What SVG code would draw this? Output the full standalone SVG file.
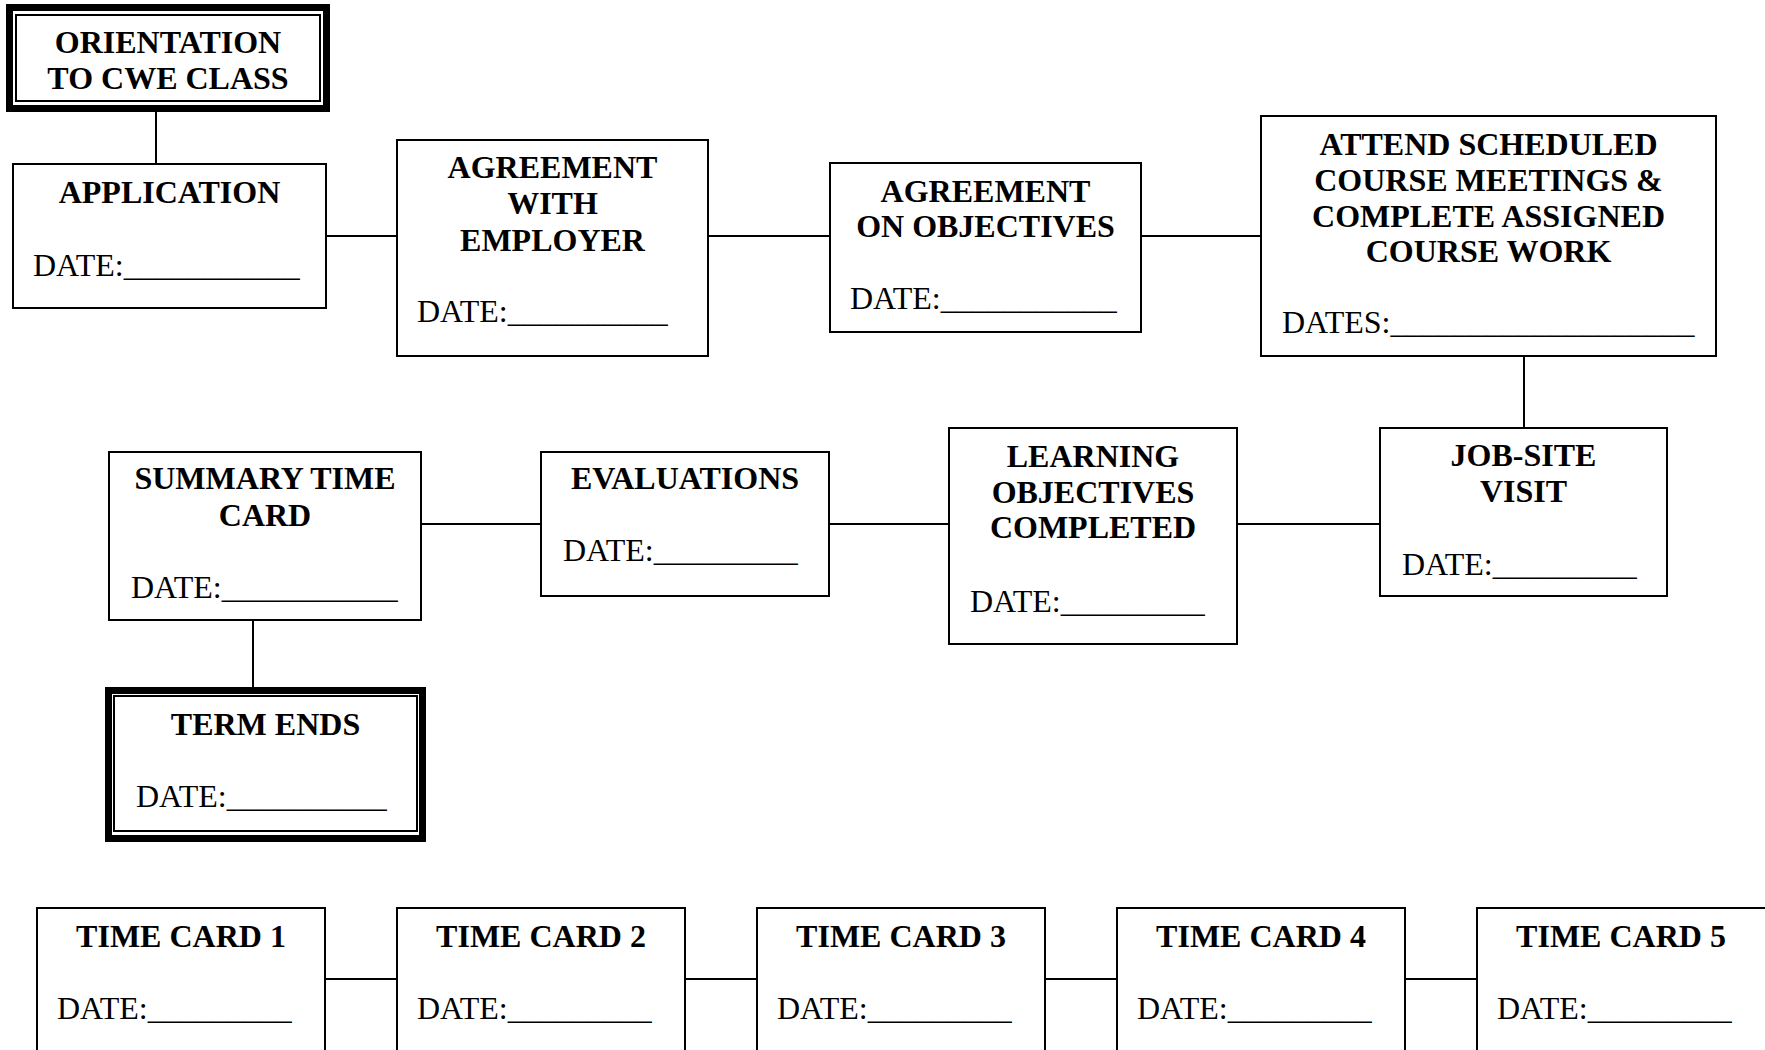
<svg xmlns="http://www.w3.org/2000/svg" width="1765" height="1050" viewBox="0 0 1765 1050">
<style>
.box{fill:#fff;stroke:#000;stroke-width:2}
.thick{fill:#fff;stroke:#000;stroke-width:7}
.thin{fill:none;stroke:#000;stroke-width:2}
.conn line{stroke:#000;stroke-width:2}
.h{font-family:"Liberation Serif",serif;font-weight:bold;font-size:32px;text-anchor:middle;fill:#000}
.d{font-family:"Liberation Serif",serif;font-size:32px;fill:#000}
</style>
<rect width="1765" height="1050" fill="#fff"/>
<g class="conn" id="connectors">
<line x1="156" y1="112" x2="156" y2="164"/>
<line x1="326" y1="236" x2="397" y2="236"/>
<line x1="708" y1="236" x2="830" y2="236"/>
<line x1="1141" y1="236" x2="1261" y2="236"/>
<line x1="1524" y1="356" x2="1524" y2="428"/>
<line x1="1237" y1="524" x2="1380" y2="524"/>
<line x1="829" y1="524" x2="949" y2="524"/>
<line x1="421" y1="524" x2="541" y2="524"/>
<line x1="253" y1="620" x2="253" y2="687"/>
<line x1="325" y1="979" x2="397" y2="979"/>
<line x1="685" y1="979" x2="757" y2="979"/>
<line x1="1045" y1="979" x2="1117" y2="979"/>
<line x1="1405" y1="979" x2="1477" y2="979"/>
</g>
<g id="orientation">
<rect class="thick" x="9.5" y="7.5" width="317" height="101"/>
<rect class="thin" x="16" y="15" width="304" height="86"/>
<text class="h" x="168" y="53">ORIENTATION</text>
<text class="h" x="168" y="89">TO CWE CLASS</text>
</g>
<g id="application">
<rect class="box" x="13" y="164" width="313" height="144"/>
<text class="h" x="169.5" y="203">APPLICATION</text>
<text class="d" x="33" y="276">DATE:___________</text>
</g>
<g id="agreement-employer">
<rect class="box" x="397" y="140" width="311" height="216"/>
<text class="h" x="552.5" y="178">AGREEMENT</text>
<text class="h" x="552.5" y="214">WITH</text>
<text class="h" x="552.5" y="251">EMPLOYER</text>
<text class="d" x="417" y="322">DATE:__________</text>
</g>
<g id="agreement-objectives">
<rect class="box" x="830" y="163" width="311" height="169"/>
<text class="h" x="985.5" y="202">AGREEMENT</text>
<text class="h" x="985.5" y="237">ON OBJECTIVES</text>
<text class="d" x="850" y="309">DATE:___________</text>
</g>
<g id="attend">
<rect class="box" x="1261" y="116" width="455" height="240"/>
<text class="h" x="1488.5" y="155">ATTEND SCHEDULED</text>
<text class="h" x="1488.5" y="191">COURSE MEETINGS &amp;</text>
<text class="h" x="1488.5" y="227">COMPLETE ASSIGNED</text>
<text class="h" x="1488.5" y="262">COURSE WORK</text>
<text class="d" x="1282" y="333">DATES:___________________</text>
</g>
<g id="jobsite">
<rect class="box" x="1380" y="428" width="287" height="168"/>
<text class="h" x="1523.5" y="466">JOB-SITE</text>
<text class="h" x="1523.5" y="502">VISIT</text>
<text class="d" x="1402" y="575">DATE:_________</text>
</g>
<g id="learning">
<rect class="box" x="949" y="428" width="288" height="216"/>
<text class="h" x="1093" y="467">LEARNING</text>
<text class="h" x="1093" y="503">OBJECTIVES</text>
<text class="h" x="1093" y="538">COMPLETED</text>
<text class="d" x="970" y="612">DATE:_________</text>
</g>
<g id="evaluations">
<rect class="box" x="541" y="452" width="288" height="144"/>
<text class="h" x="685" y="489">EVALUATIONS</text>
<text class="d" x="563" y="561">DATE:_________</text>
</g>
<g id="summary">
<rect class="box" x="109" y="452" width="312" height="168"/>
<text class="h" x="265" y="489">SUMMARY TIME</text>
<text class="h" x="265" y="526">CARD</text>
<text class="d" x="131" y="598">DATE:___________</text>
</g>
<g id="term-ends">
<rect class="thick" x="108.5" y="690.5" width="314" height="148"/>
<rect class="thin" x="114" y="696" width="303" height="135"/>
<text class="h" x="265.5" y="735">TERM ENDS</text>
<text class="d" x="136" y="807">DATE:__________</text>
</g>
<g id="timecard1">
<rect class="box" x="37" y="908" width="288" height="200"/>
<text class="h" x="181" y="947">TIME CARD 1</text>
<text class="d" x="57" y="1019">DATE:_________</text>
</g>
<g id="timecard2">
<rect class="box" x="397" y="908" width="288" height="200"/>
<text class="h" x="541" y="947">TIME CARD 2</text>
<text class="d" x="417" y="1019">DATE:_________</text>
</g>
<g id="timecard3">
<rect class="box" x="757" y="908" width="288" height="200"/>
<text class="h" x="901" y="947">TIME CARD 3</text>
<text class="d" x="777" y="1019">DATE:_________</text>
</g>
<g id="timecard4">
<rect class="box" x="1117" y="908" width="288" height="200"/>
<text class="h" x="1261" y="947">TIME CARD 4</text>
<text class="d" x="1137" y="1019">DATE:_________</text>
</g>
<g id="timecard5">
<rect class="box" x="1477" y="908" width="290" height="200"/>
<text class="h" x="1621" y="947">TIME CARD 5</text>
<text class="d" x="1497" y="1019">DATE:_________</text>
</g>
</svg>
